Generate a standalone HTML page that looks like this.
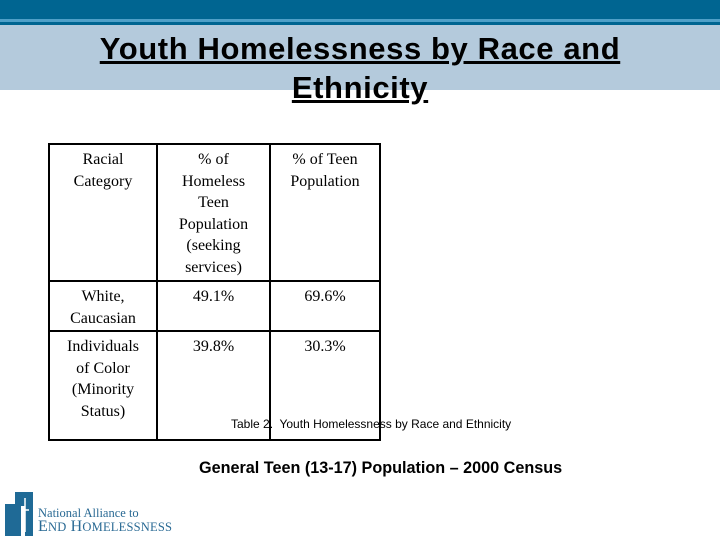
<!DOCTYPE html>
<html><head><meta charset="utf-8"><style>
body{margin:0;width:720px;height:540px;position:relative;background:#fff;overflow:hidden;font-family:"Liberation Serif",serif}
.a{position:absolute}
td{border:2px solid #000;vertical-align:top;text-align:center;font-size:16px;line-height:21.5px;padding:4px 12px 0 12px;box-sizing:border-box}
table{border-collapse:collapse;position:absolute;left:48px;top:143px;table-layout:fixed;width:331px}
</style></head><body>
<div class="a" style="left:0;top:0;width:720px;height:19px;background:#006591"></div>
<div class="a" style="left:0;top:19px;width:720px;height:3px;background:#4fa0c8"></div>
<div class="a" style="left:0;top:22px;width:720px;height:3px;background:#006591"></div>
<div class="a" style="left:0;top:25px;width:720px;height:65px;background:#b4cadc"></div>
<div class="a" style="left:0;top:29px;width:720px;text-align:center;font-family:'Liberation Sans',sans-serif;font-size:31px;font-weight:bold;letter-spacing:0.6px;line-height:39px;text-decoration:underline">Youth Homelessness by Race and<br>Ethnicity</div>
<table>
<colgroup><col style="width:108px"><col style="width:113px"><col style="width:110px"></colgroup>
<tr style="height:137px"><td>Racial Category</td><td style="padding:4px 16px 0">% of Homeless Teen Population (seeking services)</td><td>% of Teen Population</td></tr>
<tr style="height:50px"><td>White, Caucasian</td><td>49.1%</td><td>69.6%</td></tr>
<tr style="height:109px"><td>Individuals of Color (Minority Status)</td><td>39.8%</td><td>30.3%</td></tr>
</table>
<div class="a" style="left:231px;top:417px;font-family:'Liberation Sans',sans-serif;font-size:12px">Table 2.&nbsp; Youth Homelessness by Race and Ethnicity</div>
<div class="a" style="left:199px;top:459px;font-family:'Liberation Sans',sans-serif;font-size:16.2px;font-weight:bold">General Teen (13-17) Population – 2000 Census</div>
<svg class="a" style="left:5px;top:492px" width="30" height="44"><path d="M0 12 L10 12 L10 0 L28 0 L28 44 L20 44 L20 14 L16 14 L16 44 L0 44Z" fill="#1f6a96"/><path d="M20 6 V40 M17 18 H24" stroke="#fff" stroke-width="1.5"/></svg>
<div class="a" style="left:38px;top:507px;color:#2a6a94;font-size:12.5px;line-height:13px">National Alliance to<br><span style="font-size:16px;letter-spacing:0.2px">E<span style="font-size:12.5px">ND</span> H<span style="font-size:12.5px">OMELESSNESS</span></span></div>
</body></html>
